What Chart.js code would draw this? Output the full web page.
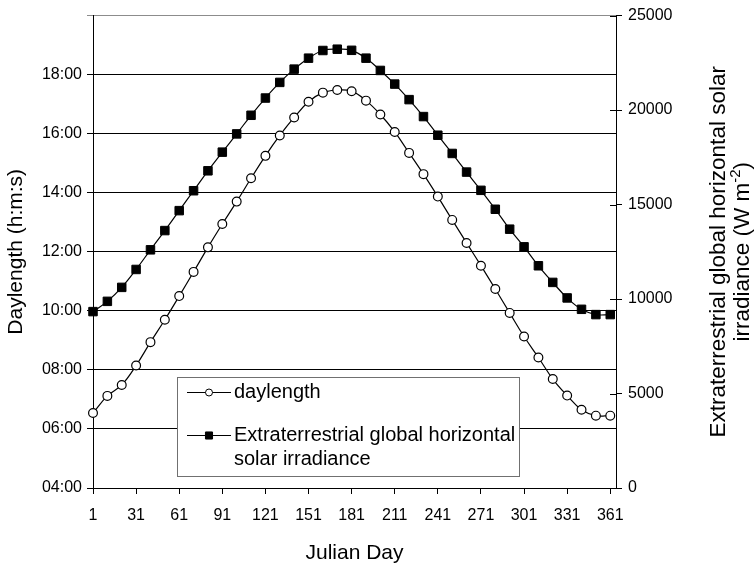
<!DOCTYPE html>
<html>
<head>
<meta charset="utf-8">
<script src="https://cdn.jsdelivr.net/npm/chart.js@4.4.1/dist/chart.umd.min.js"></script>
<style>
  html, body { margin: 0; padding: 0; background: #fff; }
  #wrap { position: relative; width: 756px; height: 571px; }
</style>
</head>
<body>
<div id="wrap"><canvas id="chart" width="756" height="571"></canvas></div>
<script>
// Julian day of each sample
const days = [1, 11, 21, 31, 41, 51, 61, 71, 81, 91, 101, 111, 121, 131, 141, 151, 161, 171, 181,
              191, 201, 211, 221, 231, 241, 251, 261, 271, 281, 291, 301, 311, 321, 331, 341, 351, 361];
// labelled days on the x axis
const dayTicks = [1, 31, 61, 91, 121, 151, 181, 211, 241, 271, 301, 331, 361];

// daylength, decimal hours
const daylength = [6.54, 7.12, 7.49, 8.15, 8.94, 9.70, 10.50, 11.32, 12.15, 12.94, 13.70, 14.49, 15.25,
                   15.94, 16.55, 17.08, 17.39, 17.48, 17.44, 17.12, 16.65, 16.06, 15.35, 14.63, 13.87,
                   13.08, 12.30, 11.53, 10.74, 9.93, 9.13, 8.42, 7.69, 7.13, 6.65, 6.45, 6.45];

// extraterrestrial global horizontal solar irradiance, W m-2
const irradiance = [9335, 9878, 10617, 11566, 12605, 13623, 14678, 15732, 16787, 17773, 18739, 19725,
                    20638, 21465, 22167, 22747, 23153, 23222, 23163, 22747, 22098, 21376, 20553, 19656,
                    18670, 17705, 16719, 15753, 14751, 13697, 12763, 11761, 10880, 10058, 9456, 9177, 9177];

const legendLines = [['daylength'], ['Extraterrestrial global horizontal', 'solar irradiance']];
const rightTitle = ['Extraterrestrial global horizontal solar', 'irradiance (W m', '-2', ')'];

Chart.defaults.font.family = '"Liberation Sans", Arial, sans-serif';
Chart.defaults.color = '#000';

function hhmm(v) {
    if (v === 20) return '';
    return (v < 10 ? '0' : '') + v + ':00';
}

// right-hand axis title, drawn bottom-to-top with a superscript
const rightTitlePlugin = {
    id: 'rightTitle',
    afterDraw(chart) {
        const ctx = chart.ctx;
        const area = chart.chartArea;
        const cy = (area.top + area.bottom) / 2;
        const big = '22.5px "Liberation Sans", Arial, sans-serif';
        const small = '15px "Liberation Sans", Arial, sans-serif';
        ctx.save();
        ctx.fillStyle = '#000';
        ctx.textBaseline = 'middle';

        ctx.save();
        ctx.translate(719, cy);
        ctx.rotate(-Math.PI / 2);
        ctx.font = big;
        ctx.textAlign = 'center';
        ctx.fillText(rightTitle[0], 0, 0);
        ctx.restore();

        ctx.save();
        ctx.translate(743, cy);
        ctx.rotate(-Math.PI / 2);
        ctx.textAlign = 'left';
        ctx.font = big;
        const w1 = ctx.measureText(rightTitle[1]).width;
        const w3 = ctx.measureText(rightTitle[3]).width;
        ctx.font = small;
        const w2 = ctx.measureText(rightTitle[2]).width;
        let x = -(w1 + w2 + w3) / 2;
        ctx.font = big;
        ctx.fillText(rightTitle[1], x, 0);
        x += w1;
        ctx.font = small;
        ctx.fillText(rightTitle[2], x, -7);
        x += w2;
        ctx.font = big;
        ctx.fillText(rightTitle[3], x, 0);
        ctx.restore();

        // inner half of the right axis tick marks
        const y1 = chart.scales.y1;
        ctx.strokeStyle = '#000';
        ctx.lineWidth = 1;
        y1.ticks.forEach(t => {
            const py = Math.round(y1.getPixelForValue(t.value)) + 0.5;
            ctx.beginPath();
            ctx.moveTo(area.right - 6, py);
            ctx.lineTo(area.right, py);
            ctx.stroke();
        });
        ctx.restore();
    }
};

// boxed legend sitting inside the plot area
const boxLegendPlugin = {
    id: 'boxLegend',
    afterDraw(chart) {
        const ctx = chart.ctx;
        const bx = 177, by = 377, bw = 342, bh = 99;
        ctx.save();
        ctx.fillStyle = '#fff';
        ctx.fillRect(bx, by, bw, bh);
        ctx.strokeStyle = '#707070';
        ctx.lineWidth = 1;
        ctx.strokeRect(bx + 0.5, by + 0.5, bw, bh);

        const rows = [392, 435];
        ctx.font = '20px "Liberation Sans", Arial, sans-serif';
        ctx.textBaseline = 'middle';
        ctx.textAlign = 'left';
        chart.data.datasets.forEach((ds, i) => {
            const y = rows[i];
            ctx.strokeStyle = '#000';
            ctx.lineWidth = 1;
            ctx.beginPath();
            ctx.moveTo(187, y + 0.5);
            ctx.lineTo(231, y + 0.5);
            ctx.stroke();
            ctx.fillStyle = ds.pointBackgroundColor;
            ctx.strokeStyle = ds.pointBorderColor;
            ctx.lineWidth = 1;
            Chart.helpers.drawPoint(ctx, {
                pointStyle: ds.pointStyle,
                radius: i === 0 ? 3.5 : 5,
                borderWidth: 1,
                rotation: 0
            }, 209, y + 0.5);
            ctx.fillStyle = '#000';
            legendLines[i].forEach((line, k) => {
                ctx.fillText(line, 234, y + k * 24);
            });
        });
        ctx.restore();
    }
};

new Chart(document.getElementById('chart'), {
    type: 'line',
    data: {
        datasets: [
            {
                label: 'daylength',
                data: days.map((d, i) => ({ x: d, y: daylength[i] })),
                yAxisID: 'y',
                borderColor: '#000',
                borderWidth: 1.2,
                pointStyle: 'circle',
                pointRadius: 4.4,
                pointBorderWidth: 1.2,
                pointBackgroundColor: '#fff',
                pointBorderColor: '#000',
                tension: 0.4,
                clip: false
            },
            {
                label: 'Extraterrestrial global horizontal solar irradiance',
                data: days.map((d, i) => ({ x: d, y: irradiance[i] })),
                yAxisID: 'y1',
                borderColor: '#000',
                borderWidth: 1.2,
                pointStyle: 'rect',
                pointRadius: 6,
                pointBorderWidth: 1,
                pointBackgroundColor: '#000',
                pointBorderColor: '#000',
                tension: 0.4,
                clip: false
            }
        ]
    },
    options: {
        responsive: false,
        animation: false,
        devicePixelRatio: 1,
        layout: { padding: { top: 14, left: 0, right: 0, bottom: 0 } },
        plugins: {
            legend: { display: false },
            tooltip: { enabled: false }
        },
        scales: {
            x: {
                type: 'linear',
                min: 1,
                max: 365,
                afterBuildTicks: s => { s.ticks = dayTicks.map(v => ({ value: v })); },
                afterFit: s => { s.height = 83; },
                grid: { drawOnChartArea: false, tickLength: 6, color: '#000' },
                border: { color: '#000', width: 1 },
                ticks: { font: { size: 16 }, padding: 12, maxRotation: 0, autoSkip: false },
                title: { display: true, text: 'Julian Day', font: { size: 21 }, padding: { top: 0, bottom: 5 } }
            },
            y: {
                position: 'left',
                min: 4,
                max: 20,
                afterFit: s => { s.width = 93; },
                grid: {
                    tickLength: 6,
                    color: c => (c.tick && c.tick.value === 20 ? '#8c8c8c' : '#000')
                },
                border: { color: '#000', width: 1 },
                ticks: { stepSize: 2, font: { size: 16 }, padding: 5, callback: v => hhmm(v) },
                title: { display: true, text: 'Daylength (h:m:s)', font: { size: 21 }, padding: { top: 4, bottom: 0 } }
            },
            y1: {
                position: 'right',
                min: 0,
                max: 25000,
                afterFit: s => { s.width = 140; },
                grid: { drawOnChartArea: false, tickLength: 6, color: '#000' },
                border: { color: '#000', width: 1 },
                ticks: { stepSize: 5000, font: { size: 16 }, padding: 6, callback: v => String(v) }
            }
        }
    },
    plugins: [boxLegendPlugin, rightTitlePlugin]
});
</script>
</body>
</html>
